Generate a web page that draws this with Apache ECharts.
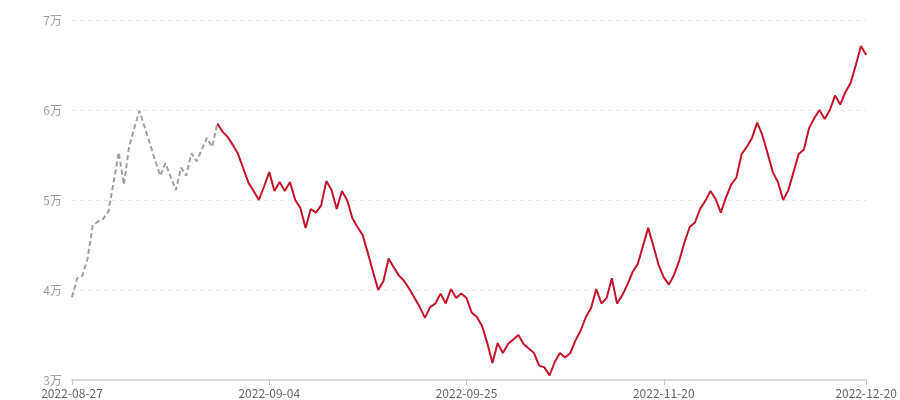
<!DOCTYPE html>
<html>
<head>
<meta charset="utf-8">
<script src="https://cdn.jsdelivr.net/npm/echarts@6/dist/echarts.min.js"></script>
<style>
  html, body { margin: 0; padding: 0; background: #fff; }
  #chart { width: 900px; height: 400px; }
</style>
</head>
<body>
<div id="chart"></div>
<script>
// values
const values = [
  39200, 41300, 41600, 43500, 47200, 47600, 47900, 48700, 51900, 55300,
  51700, 55900, 58000, 59900, 58100, 56300, 54400, 52700, 54100, 52600,
  51100, 53600, 52700, 55200, 54300, 55600, 56900, 55900, 58500, 57600,
  57000, 56100, 55100, 53500, 51900, 51000, 50000, 51500, 53100, 51000,
  52000, 51000, 52000, 50000, 49100, 46900, 49000, 48600, 49400, 52100,
  51100, 49000, 51000, 50000, 48000, 47000, 46100, 44100, 42000, 40000,
  41000, 43500, 42500, 41600, 41000, 40100, 39100, 38100, 36900, 38100,
  38500, 39600, 38500, 40100, 39100, 39600, 39100, 37500, 37000, 36000,
  34100, 31900, 34100, 33000, 34000, 34500, 35000, 34000, 33500, 33000,
  31600, 31400, 30500, 32000, 33000, 32500, 33000, 34400, 35500, 37000,
  38000, 40100, 38500, 39100, 41300, 38500, 39400, 40600, 42000, 42900,
  44900, 46900, 44900, 42800, 41400, 40600, 41700, 43300, 45300, 47000,
  47500, 49000, 49900, 51000, 50100, 48600, 50300, 51700, 52500, 55100,
  55900, 56900, 58600, 57200, 55200, 53100, 52000, 50000, 51100, 53100,
  55100, 55600, 58000, 59100, 60000, 59000, 60000, 61600, 60600, 62000,
  63000, 65000, 67100, 66100
];
// dates shown on the x axis and the points they sit on
const tickDates = ['2022-08-27', '2022-09-04', '2022-09-25', '2022-11-20', '2022-12-20'];
const tickIndex = [0, 38, 76, 114, 153];
// first points are drawn dashed
const dashedEnd = 28;

const categories = values.map(() => '');
tickIndex.forEach((idx, k) => { categories[idx] = tickDates[k]; });

const dashedData = values.map((v, i) => (i <= dashedEnd ? v : null));
const solidData = values.map((v, i) => (i >= dashedEnd ? v : null));

const showTick = (index, value) => value !== '';

const chart = echarts.init(document.getElementById('chart'));
chart.setOption({
  animation: false,
  grid: { left: 72, right: 33, top: 20, bottom: 20, containLabel: false },
  xAxis: {
    type: 'category',
    data: categories,
    boundaryGap: false,
    axisLine: { lineStyle: { color: '#dcdcdc', width: 2 } },
    axisTick: { show: true, interval: showTick, length: 5, lineStyle: { color: '#c8c8c8' } },
    axisLabel: {
      interval: showTick,
      color: '#666',
      fontSize: 12,
      margin: 7,
      fontFamily: 'Noto Sans CJK SC'
    },
    splitLine: { show: false }
  },
  yAxis: {
    type: 'value',
    min: 30000,
    max: 70000,
    interval: 10000,
    axisLine: { show: false },
    axisTick: { show: false },
    axisLabel: {
      color: '#a0a0a0',
      fontSize: 12,
      margin: 10,
      fontFamily: 'Noto Sans CJK SC',
      formatter: v => v / 10000 + '万'
    },
    splitLine: { lineStyle: { color: '#e8e8e8', type: [4, 4] } }
  },
  series: [
    {
      type: 'line',
      data: dashedData,
      symbol: 'none',
      lineStyle: { color: '#a0a0a0', width: 2, type: [5, 3] }
    },
    {
      type: 'line',
      data: solidData,
      symbol: 'none',
      lineStyle: { color: '#c4142b', width: 2 }
    }
  ]
});
</script>
</body>
</html>
